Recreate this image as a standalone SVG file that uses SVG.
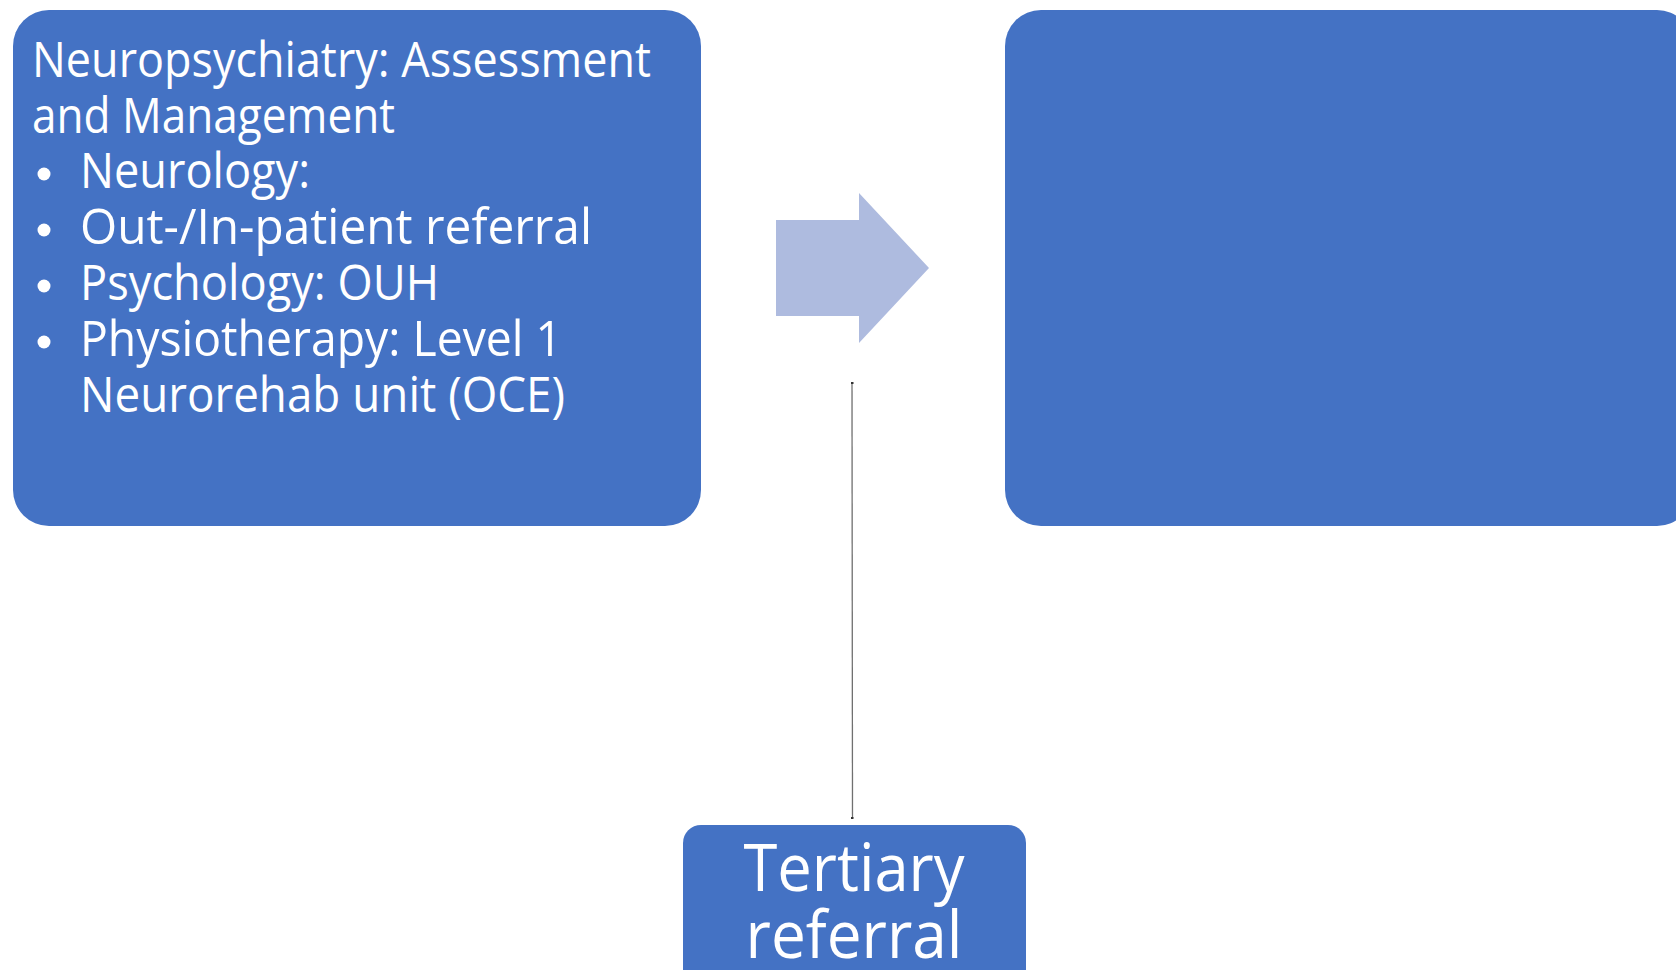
<svg xmlns="http://www.w3.org/2000/svg" width="1676" height="970" viewBox="0 0 1676 970">
  <style>
    .box { fill: #4472C4; }
    .txt { fill: #FFFFFF; font-family: "Open Sans", "DejaVu Sans", sans-serif; font-size: 50px; }
    .big { fill: #FFFFFF; font-family: "Open Sans", "DejaVu Sans", sans-serif; font-size: 66px; text-anchor: middle; }
    .dot { fill: #FFFFFF; }
    .link { stroke: #707070; stroke-width: 1.3; fill: none; }
  </style>
  <rect width="1676" height="970" fill="#FFFFFF"/>

  <!-- Left panel: assessment and management -->
  <g id="assessment">
    <rect class="box" x="13" y="10" width="688" height="516" rx="36" ry="36"/>
    <text class="txt" x="32" y="77" textLength="619" lengthAdjust="spacingAndGlyphs">Neuropsychiatry: Assessment</text>
    <text class="txt" x="32" y="132.5" textLength="363" lengthAdjust="spacingAndGlyphs">and Management</text>
    <circle class="dot" cx="44" cy="174" r="6.5"/>
    <text class="txt" x="80" y="188" textLength="230" lengthAdjust="spacingAndGlyphs">Neurology:</text>
    <circle class="dot" cx="44" cy="230" r="6.5"/>
    <text class="txt" x="80" y="244" textLength="512" lengthAdjust="spacingAndGlyphs">Out-/In-patient referral</text>
    <circle class="dot" cx="44" cy="286" r="6.5"/>
    <text class="txt" x="80" y="300" textLength="359" lengthAdjust="spacingAndGlyphs">Psychology: OUH</text>
    <circle class="dot" cx="44" cy="342" r="6.5"/>
    <text class="txt" x="80" y="356" textLength="482" lengthAdjust="spacingAndGlyphs">Physiotherapy: Level 1</text>
    <text class="txt" x="80" y="412" textLength="485" lengthAdjust="spacingAndGlyphs">Neurorehab unit (OCE)</text>
  </g>

  <!-- Block arrow between panels -->
  <g id="flow-arrow">
    <polygon points="776,220 859,220 859,193 929,268 859,343 859,316 776,316" fill="#AEBBDF"/>
  </g>

  <!-- Right panel -->
  <g id="right-panel">
    <rect class="box" x="1005" y="10" width="688" height="516" rx="36" ry="36"/>
  </g>

  <!-- Bottom node -->
  <g id="tertiary">
    <rect class="box" x="683" y="825" width="343" height="170" rx="18" ry="18"/>
    <text class="big" x="854" y="891" textLength="221" lengthAdjust="spacingAndGlyphs">Tertiary</text>
    <text class="big" x="854" y="958" textLength="217" lengthAdjust="spacingAndGlyphs">referral</text>
  </g>

  <!-- Connectors -->
  <g id="connectors">
    <line class="link" x1="852" y1="383" x2="852.5" y2="818"/>
    <rect x="851" y="382" width="2.5" height="2" fill="#333333"/>
    <rect x="851" y="817" width="2.5" height="2" fill="#333333"/>
  </g>
</svg>
